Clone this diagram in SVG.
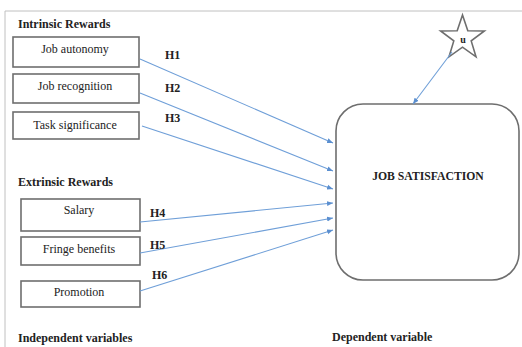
<svg xmlns="http://www.w3.org/2000/svg" width="522" height="347" viewBox="0 0 522 347">
<defs>
<marker id="ah" markerUnits="userSpaceOnUse" markerWidth="7" markerHeight="6" refX="6" refY="3" orient="auto">
<path d="M0,0.5 L6,3 L0,5.5 Z" fill="#5b8fd0"/>
</marker>
<style>
.frame{stroke:#c0c0c0;stroke-width:1;fill:none}
.box{fill:#fff;stroke:#6e6e6e;stroke-width:1.6}
.t{font-family:"Liberation Serif","Times New Roman",serif;font-size:12px;fill:#222}
.b{font-weight:bold}
.c{text-anchor:middle}
.conn line{stroke:#6f9fd8;stroke-width:1.1;marker-end:url(#ah)}
</style>
</defs>
<rect width="522" height="347" fill="#fff"/>
<path class="frame" d="M5,347 V11 H522"/>

<text class="t b" x="18" y="28">Intrinsic Rewards</text>
<text class="t b" x="18" y="186">Extrinsic Rewards</text>
<text class="t b" x="18" y="342">Independent variables</text>
<text class="t b" x="332" y="341">Dependent variable</text>

<g id="job-autonomy"><rect class="box" x="13" y="37" width="126" height="30"/><text class="t c" x="75" y="53">Job autonomy</text></g>
<g id="job-recognition"><rect class="box" x="13" y="74" width="126" height="29"/><text class="t c" x="75" y="90">Job recognition</text></g>
<g id="task-significance"><rect class="box" x="13" y="112" width="126" height="27"/><text class="t c" x="75" y="129">Task significance</text></g>
<g id="salary"><rect class="box" x="21" y="199" width="119" height="32"/><text class="t c" x="79" y="214">Salary</text></g>
<g id="fringe-benefits"><rect class="box" x="21" y="237" width="119" height="28"/><text class="t c" x="79" y="253">Fringe benefits</text></g>
<g id="promotion"><rect class="box" x="21" y="281" width="119" height="26"/><text class="t c" x="79" y="296">Promotion</text></g>

<g id="job-satisfaction"><rect class="box" x="336" y="104" width="183" height="176" rx="27" ry="27"/><text class="t c b" x="428" y="180" style="font-size:11.7px">JOB SATISFACTION</text></g>

<g id="u"><polygon class="box" points="462.5,15 467.8,30.7 484.4,30.9 471.2,40.9 476.0,56.8 462.5,47.2 449.0,56.8 453.8,40.9 440.6,30.9 457.2,30.7"/><text class="t c b" x="463" y="43" style="font-size:10px">u</text></g>

<g class="conn">
<line x1="140" y1="59" x2="333" y2="143"/>
<line x1="140" y1="93" x2="333" y2="171"/>
<line x1="142" y1="126" x2="333" y2="189"/>
<line x1="140" y1="222" x2="333" y2="203"/>
<line x1="140" y1="253" x2="333" y2="218"/>
<line x1="140" y1="291" x2="333" y2="230"/>
<line x1="452" y1="52" x2="413" y2="104"/>
</g>

<text class="t b" x="165" y="59">H1</text>
<text class="t b" x="165" y="92">H2</text>
<text class="t b" x="165" y="122">H3</text>
<text class="t b" x="150" y="217">H4</text>
<text class="t b" x="150" y="249">H5</text>
<text class="t b" x="152" y="279">H6</text>
</svg>
